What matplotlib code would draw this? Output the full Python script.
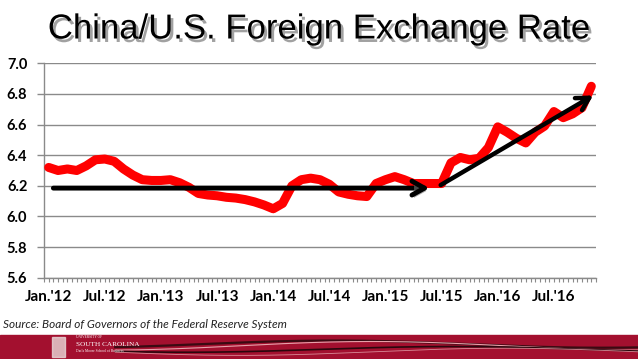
import numpy as np
import matplotlib
matplotlib.use("Agg")
import matplotlib.pyplot as plt
from matplotlib.ticker import MultipleLocator, FixedLocator, FixedFormatter
import matplotlib.patheffects as pe
from matplotlib.patches import Rectangle
from matplotlib.lines import Line2D

# ---- data ----
rates_2012 = [6.32, 6.30, 6.31, 6.30, 6.33, 6.37, 6.375, 6.36, 6.31, 6.27, 6.24, 6.235]
rates_2013 = [6.235, 6.24, 6.22, 6.19, 6.15, 6.14, 6.135, 6.125, 6.12, 6.11, 6.095, 6.075]
rates_2014 = [6.05, 6.085, 6.20, 6.24, 6.25, 6.24, 6.21, 6.16, 6.145, 6.135, 6.13, 6.215]
rates_2015 = [6.24, 6.26, 6.24, 6.215, 6.215, 6.215, 6.215, 6.35, 6.385, 6.37, 6.38, 6.45]
rates_2016 = [6.585, 6.55, 6.51, 6.48, 6.55, 6.59, 6.685, 6.645, 6.67, 6.71, 6.85]
rates = rates_2012 + rates_2013 + rates_2014 + rates_2015 + rates_2016

tick_labels = ["Jan.'12", "Jul.'12", "Jan.'13", "Jul.'13", "Jan.'14",
               "Jul.'14", "Jan.'15", "Jul.'15", "Jan.'16", "Jul.'16"]
tick_positions = [0, 6, 12, 18, 24, 30, 36, 42, 48, 54]

# trend arrows (month index, rate)
flat_trend_x = [0.5, 40.7]
flat_trend_y = [6.185, 6.185]
rise_trend_x = [41.9, 58.2]
rise_trend_y = [6.205, 6.79]

# ---- figure ----
fig = plt.figure(figsize=(6.38, 3.59), dpi=100)
fig.patch.set_facecolor("white")
ax = fig.add_axes([44/638, 1-277.7/359, 552/638, (277.7-63.3)/359])

x = np.arange(len(rates))
ax.plot(x, rates, color="#FF0000", lw=6.5, solid_joinstyle="round",
        solid_capstyle="round", zorder=3)

ax.set_xlim(-0.5, len(rates) - 0.5)
ax.set_ylim(5.6, 7.0)
ax.yaxis.set_major_locator(MultipleLocator(0.2))
ax.yaxis.set_major_formatter(matplotlib.ticker.FormatStrFormatter("%.1f"))
ax.grid(axis="y", color="#8a8a8a", lw=1.0)
ax.set_axisbelow(True)

ax.xaxis.set_major_locator(FixedLocator(tick_positions))
ax.xaxis.set_major_formatter(FixedFormatter(tick_labels))
ax.xaxis.set_minor_locator(FixedLocator(np.arange(-0.5, len(rates), 0.5)))

for s in ["top", "right"]:
    ax.spines[s].set_visible(False)
for s in ["left", "bottom"]:
    ax.spines[s].set_color("#8a8a8a")
    ax.spines[s].set_linewidth(1.0)

ax.tick_params(axis="x", which="both", direction="out", length=3, color="#8a8a8a",
               width=0.8, pad=6)
ax.tick_params(axis="y", which="major", direction="out", length=5, color="#8a8a8a",
               width=1.0, pad=7)
for lab in ax.get_xticklabels():
    lab.set_fontfamily(["Lato", "DejaVu Sans"])
    lab.set_fontweight("bold")
    lab.set_fontsize(11)
    lab.set_color("black")
for lab in ax.get_yticklabels():
    lab.set_fontfamily(["Lato", "DejaVu Sans"])
    lab.set_fontweight("bold")
    lab.set_fontsize(10.5)
    lab.set_color("black")

# arrows
shadow = [pe.SimplePatchShadow(offset=(1.5, -2), shadow_rgbFace="#777777", alpha=0.6), pe.Normal()]
astyle = "->,head_length=0.9,head_width=0.5"
a1 = ax.annotate("", xy=(flat_trend_x[1], flat_trend_y[1]), xytext=(flat_trend_x[0], flat_trend_y[0]),
                 arrowprops=dict(arrowstyle=astyle, lw=3.5,
                                 color="black", shrinkA=0, shrinkB=0), zorder=4)
a1.arrow_patch.set_path_effects(shadow)
a2 = ax.annotate("", xy=(rise_trend_x[1], rise_trend_y[1]), xytext=(rise_trend_x[0], rise_trend_y[0]),
                 arrowprops=dict(arrowstyle=astyle, lw=3.2,
                                 color="black", shrinkA=0, shrinkB=0), zorder=4)

# title
fig.text(0.5, 1-29/359, "China/U.S. Foreign Exchange Rate", ha="center", va="center",
         fontsize=25, family=["Liberation Sans", "DejaVu Sans"], color="black",
         path_effects=[pe.SimplePatchShadow(offset=(2, -2.5), shadow_rgbFace="#555555", alpha=0.55),
                       pe.Normal()])

# source
fig.text(3/638, 1-325/359, "Source: Board of Governors of the Federal Reserve System",
         ha="left", va="center", fontsize=8.5, style="italic",
         family=["Lato", "DejaVu Sans"], color="#222222")

# banner
bh = 24/359
fig.add_artist(Rectangle((0, 0), 1, bh, transform=fig.transFigure, color="#A3102F", zorder=0))
t = np.linspace(0, 1, 300)
for amp, off, col, lw in [(0.010, 0.62, "#3a0a12", 1.6), (0.012, 0.55, "#e8a0aa", 0.8),
                          (0.008, 0.40, "#2a070d", 1.2), (0.010, 0.30, "#d98a96", 0.6)]:
    yy = bh * off + amp * np.sin(2 * np.pi * (t * 1.2 + off))
    fig.add_artist(Line2D(t[t > 0.18], yy[t > 0.18], transform=fig.transFigure, color=col, lw=lw))
fig.add_artist(Rectangle((52/638, 2/359), 13/638, 20/359, transform=fig.transFigure,
                         color="#e9d9d9", alpha=0.8))
fig.text(76/638, 1-337/359, "UNIVERSITY OF", fontsize=2.5, color="white", family="Liberation Serif", va="center")
fig.text(76/638, 1-344/359, "SOUTH CAROLINA", fontsize=5.2, color="white", family="Liberation Serif", va="center")
fig.text(76/638, 1-351/359, "Darla Moore School of Business", fontsize=2.6, color="white", family="Liberation Serif", va="center")

fig.savefig("out.png", dpi=100)
